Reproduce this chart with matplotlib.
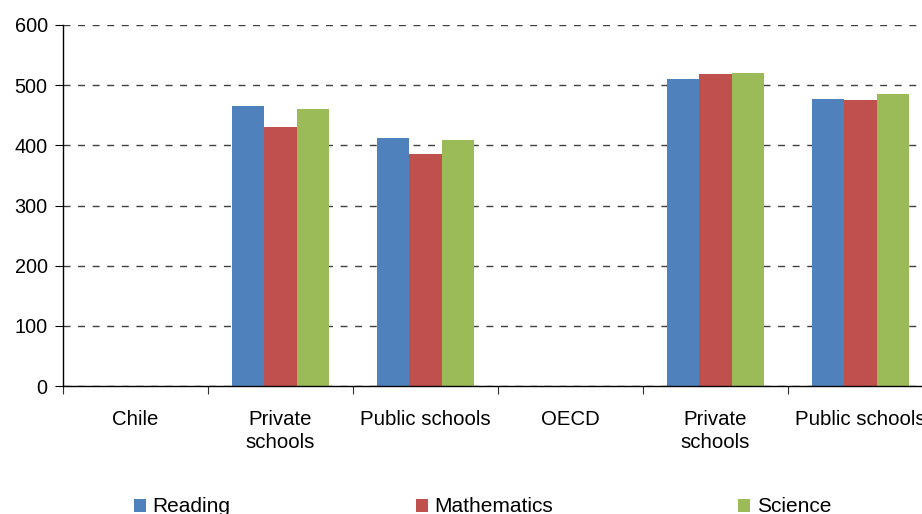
import numpy as np
import matplotlib
matplotlib.use('Agg')
import matplotlib.pyplot as plt

plt.rcParams['font.family'] = ['Liberation Sans', 'DejaVu Sans']

categories = ['Chile', 'Private\nschools', 'Public schools', 'OECD', 'Private\nschools', 'Public schools']
reading = [np.nan, 465, 412, np.nan, 510, 477]
mathematics = [np.nan, 430, 386, np.nan, 518, 475]
science = [np.nan, 460, 409, np.nan, 520, 485]
series = [('Reading', reading, '#4F81BD'),
          ('Mathematics', mathematics, '#C0504D'),
          ('Science', science, '#9BBB59')]

fig = plt.figure(figsize=(9.22, 5.14), dpi=100)
ax = fig.add_axes([63 / 922, 128 / 514, 870 / 922, 361 / 514])

x = np.arange(len(categories))
bar_width = 0.223
for i, (name, values, color) in enumerate(series):
    ax.bar(x + (i - 1) * bar_width, values, width=bar_width, color=color, label=name)

ax.set_xlim(-0.5, len(categories) - 0.5)
ax.set_ylim(0, 600)
ax.set_yticks(range(0, 601, 100))
ax.yaxis.grid(True, color='#404040', linestyle=(0, (5, 5.5)), linewidth=1)
ax.set_axisbelow(True)

# category boundaries get the tick marks, centres get the labels
ax.set_xticks(np.arange(len(categories) + 1) - 0.5)
ax.set_xticklabels([])
ax.set_xticks(x, minor=True)
ax.set_xticklabels(categories, minor=True)
for lbl in ax.get_xticklabels(minor=True):
    lbl.set_linespacing(1.3)
ax.tick_params(axis='x', which='major', length=6, direction='out', color='#303030')
ax.tick_params(axis='x', which='minor', length=0, pad=17, labelsize=14.7)
ax.tick_params(axis='y', length=6, direction='out', pad=5, labelsize=14.3)

for side in ['top', 'right']:
    ax.spines[side].set_visible(False)
for side in ['left', 'bottom']:
    ax.spines[side].set_color('black')
    ax.spines[side].set_linewidth(1)

fig.legend(loc='center left', bbox_to_anchor=(134 / 922, 7 / 514), ncol=3,
           frameon=False, fontsize=15, borderpad=0, borderaxespad=0,
           handlelength=0.58, handleheight=0.58, handletextpad=0.3,
           columnspacing=8.9)

fig.savefig('out.png', dpi=100)
